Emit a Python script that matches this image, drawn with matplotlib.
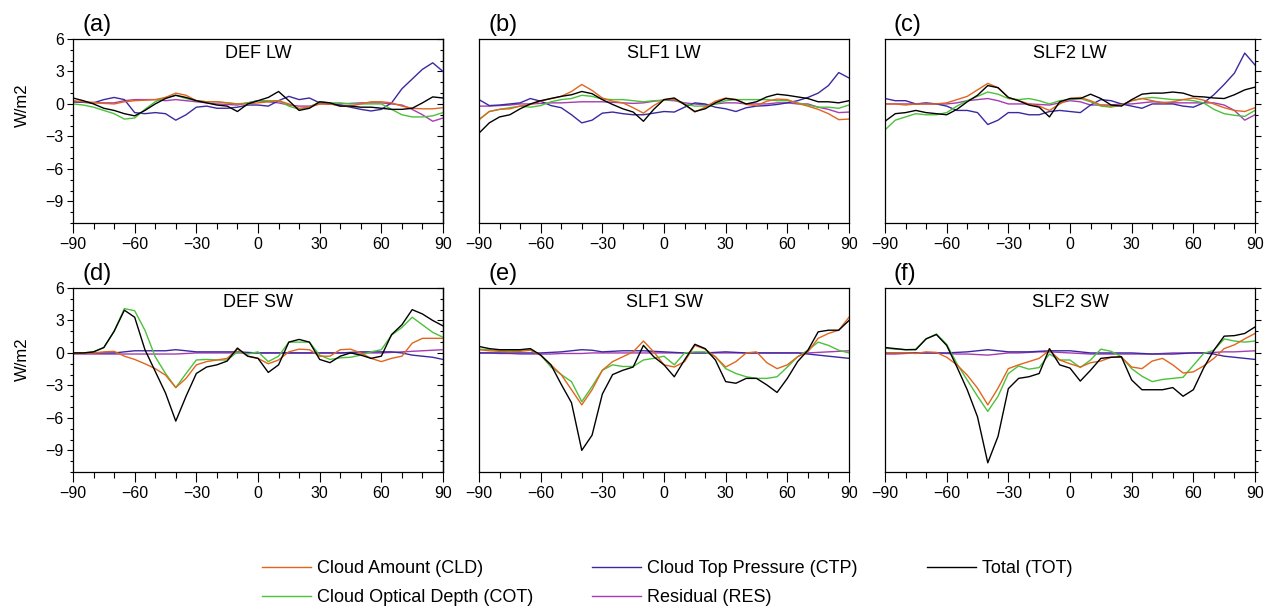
import matplotlib.pyplot as plt
import numpy as np
from matplotlib.ticker import MultipleLocator

plt.rcParams['font.family'] = ['Liberation Sans', 'DejaVu Sans']

# latitude grid (every 5 deg)
lat = np.arange(-90, 91, 5)

# ---- (a) DEF LW ----
a_cld = [0.3, 0.2, 0.15, 0.05, 0.0, 0.2, 0.3, 0.35, 0.4, 0.6, 1.0, 0.8, 0.3, 0.2, 0.2, 0.1, 0.0, 0.0, 0.1,
         0.2, 0.3, 0.0, -0.4, -0.3, 0.0, 0.0, -0.2, -0.2, 0.0, 0.2, 0.2, 0.1, -0.2, -0.4, -0.45, -0.45, -0.35]
a_cot = [0.0, -0.1, -0.3, -0.6, -0.9, -1.4, -1.3, -0.5, 0.2, 0.6, 0.8, 0.5, 0.3, 0.2, 0.2, 0.1, 0.0, 0.1, 0.3,
         0.3, 0.3, -0.2, -0.5, -0.3, 0.2, 0.1, 0.1, 0.0, 0.0, 0.0, 0.0, -0.5, -1.0, -1.2, -1.2, -1.1, -0.8]
a_ctp = [0.2, 0.15, 0.1, 0.4, 0.6, 0.4, -0.8, -0.9, -0.8, -0.9, -1.5, -1.0, -0.3, -0.2, -0.4, -0.4, -0.3, -0.1, -0.1,
         -0.2, 0.3, 0.7, 0.4, 0.55, 0.1, 0.0, -0.1, -0.3, -0.5, -0.65, -0.5, 0.1, 1.4, 2.3, 3.2, 3.8, 3.0]
a_res = [0.2, 0.15, 0.1, 0.1, 0.1, 0.3, 0.4, 0.4, 0.4, 0.3, 0.4, 0.3, 0.2, 0.1, 0.0, -0.05, -0.1, 0.1, 0.3,
         0.2, 0.1, -0.1, -0.2, -0.2, 0.0, 0.0, 0.0, 0.05, 0.1, 0.1, 0.1, 0.0, -0.1, -0.5, -1.0, -1.6, -1.3]
a_tot = [0.55, 0.3, 0.0, -0.4, -0.6, -0.9, -1.1, -0.6, 0.0, 0.5, 0.8, 0.6, 0.3, 0.1, -0.1, -0.2, -0.7, 0.0, 0.3,
         0.6, 1.15, 0.3, -0.6, -0.4, 0.2, 0.1, -0.2, -0.2, -0.3, -0.3, -0.4, -0.5, -0.5, -0.4, 0.1, 0.65, 0.55]

# ---- (b) SLF1 LW ----
b_cld = [-1.45, -0.7, -0.5, -0.45, -0.2, -0.05, 0.25, 0.5, 0.7, 1.15, 1.8, 1.25, 0.55, 0.25, 0.1, -0.35, -0.85, -0.15, 0.4,
         0.45, -0.05, -0.75, -0.3, 0.25, 0.55, 0.4, -0.05, -0.15, 0.25, 0.45, 0.4, 0.05, -0.2, -0.5, -0.9, -1.45, -1.4]
b_cot = [-1.45, -0.7, -0.5, -0.35, -0.2, -0.3, -0.15, 0.2, 0.4, 0.5, 0.8, 0.7, 0.45, 0.4, 0.4, 0.3, 0.2, 0.3, 0.35,
         0.4, 0.0, -0.2, -0.2, 0.0, 0.3, 0.4, 0.4, 0.4, 0.4, 0.3, 0.3, 0.1, -0.1, -0.3, -0.3, -0.4, -0.1]
b_ctp = [0.4, -0.15, -0.1, 0.0, 0.1, 0.5, 0.25, -0.15, -0.35, -1.0, -1.75, -1.5, -0.85, -0.75, -0.9, -1.0, -1.0, -0.85, -0.7,
         -0.75, -0.3, 0.1, 0.0, -0.3, -0.45, -0.7, -0.35, -0.2, -0.15, -0.05, 0.1, 0.3, 0.6, 1.0, 1.7, 2.9, 2.4]
b_res = [-0.2, -0.2, -0.15, -0.1, 0.0, 0.0, 0.05, 0.1, 0.1, 0.15, 0.2, 0.2, 0.2, 0.15, 0.1, 0.05, 0.1, 0.25, 0.35,
         0.3, 0.1, 0.0, -0.1, 0.0, 0.1, 0.1, 0.0, 0.0, 0.0, 0.1, 0.1, 0.0, 0.0, -0.3, -0.5, -0.8, -0.75]
b_tot = [-2.7, -1.75, -1.2, -1.0, -0.45, 0.0, 0.3, 0.5, 0.7, 0.85, 1.15, 0.95, 0.4, -0.05, -0.45, -0.75, -1.6, -0.5, 0.4,
         0.55, -0.05, -0.7, -0.45, 0.1, 0.5, 0.4, 0.0, 0.2, 0.65, 0.9, 0.8, 0.65, 0.5, 0.2, 0.2, 0.1, 0.3]

# ---- (c) SLF2 LW ----
c_cld = [0.0, 0.0, -0.1, 0.0, 0.0, 0.0, 0.1, 0.4, 0.7, 1.3, 1.9, 1.5, 0.6, 0.3, 0.0, -0.2, -0.6, 0.0, 0.5,
         0.6, 0.3, -0.1, -0.2, -0.1, 0.3, 0.5, 0.3, 0.1, 0.2, 0.4, 0.55, 0.35, 0.0, -0.35, -0.6, -0.7, -0.35]
c_cot = [-2.4, -1.5, -1.2, -0.9, -1.0, -1.0, -0.8, -0.2, 0.3, 0.7, 1.1, 0.9, 0.5, 0.4, 0.5, 0.3, 0.0, 0.3, 0.4,
         0.5, 0.2, -0.2, -0.3, -0.1, 0.3, 0.5, 0.6, 0.5, 0.4, 0.4, 0.3, 0.1, -0.5, -0.9, -1.05, -1.15, -0.6]
c_ctp = [0.5, 0.3, 0.3, 0.0, 0.1, 0.0, -0.2, -0.6, -0.6, -0.8, -1.9, -1.5, -0.8, -0.8, -1.0, -1.0, -0.7, -0.6, -0.7,
         -0.8, -0.1, 0.4, 0.3, 0.0, -0.2, -0.4, 0.0, 0.0, 0.0, -0.2, -0.3, 0.1, 0.85, 1.8, 2.85, 4.7, 3.6]
c_res = [0.0, 0.0, 0.0, 0.0, 0.0, 0.0, 0.0, 0.1, 0.3, 0.4, 0.5, 0.3, 0.0, 0.0, 0.0, -0.05, -0.1, 0.1, 0.3,
         0.2, -0.1, -0.1, -0.1, 0.0, 0.0, 0.1, 0.2, 0.15, 0.1, 0.1, 0.1, 0.1, 0.1, -0.1, -0.6, -1.5, -1.0]
c_tot = [-1.6, -0.9, -0.8, -0.6, -0.8, -0.9, -1.0, -0.5, 0.2, 0.8, 1.7, 1.5, 0.6, 0.3, -0.1, -0.3, -1.2, 0.2, 0.5,
         0.5, 0.9, 0.5, -0.1, -0.2, 0.4, 0.9, 1.0, 1.0, 1.1, 1.0, 0.7, 0.65, 0.55, 0.5, 0.85, 1.3, 1.55]

# ---- (d) DEF SW ----
d_cld = [0.0, 0.0, 0.0, 0.1, 0.15, -0.3, -0.6, -1.0, -1.45, -2.05, -3.2, -2.35, -1.1, -0.8, -0.65, -0.5, 0.35, -0.3, -0.5,
         -1.0, -0.65, 0.1, 0.35, 0.3, -0.3, -0.3, 0.3, 0.35, 0.0, -0.5, -0.8, -0.5, -0.3, 0.9, 1.35, 1.35, 1.35]
d_cot = [0.0, 0.0, 0.1, 0.5, 2.0, 4.1, 3.9, 2.1, -0.35, -1.9, -3.2, -1.9, -0.65, -0.6, -0.65, -0.65, 0.1, -0.1, 0.1,
         -0.8, -0.3, 1.0, 1.0, 1.0, -0.2, -0.6, -0.45, -0.4, -0.2, 0.1, 0.3, 1.65, 2.35, 3.3, 2.6, 1.9, 1.45]
d_ctp = [0.0, 0.0, 0.0, 0.0, 0.0, 0.1, 0.2, 0.2, 0.2, 0.2, 0.3, 0.2, 0.1, 0.1, 0.1, 0.1, 0.1, 0.05, 0.0,
         0.0, 0.0, 0.0, 0.0, 0.0, 0.0, 0.0, 0.0, 0.05, 0.1, 0.1, 0.1, 0.1, 0.0, -0.2, -0.3, -0.4, -0.6]
d_res = [-0.1, -0.1, -0.1, -0.1, -0.1, -0.1, -0.1, -0.1, -0.1, -0.1, -0.1, -0.05, 0.0, 0.0, 0.0, 0.0, 0.0, 0.0, 0.0,
         0.0, 0.0, 0.0, 0.0, 0.0, 0.0, 0.0, 0.0, 0.0, 0.0, 0.0, 0.0, 0.05, 0.1, 0.15, 0.2, 0.25, 0.3]
d_tot = [0.0, 0.0, 0.1, 0.5, 2.0, 3.95, 3.3, 0.3, -1.7, -3.7, -6.3, -4.0, -1.9, -1.3, -1.1, -0.75, 0.45, -0.3, -0.5,
         -1.8, -1.1, 1.0, 1.25, 1.0, -0.6, -0.9, -0.3, 0.0, -0.2, -0.5, -0.3, 1.7, 2.6, 4.0, 3.6, 3.0, 2.5]

# ---- (e) SLF1 SW ----
e_cld = [0.3, 0.2, 0.15, 0.1, 0.15, 0.25, -0.2, -1.1, -2.0, -3.4, -4.8, -3.4, -1.6, -0.8, -0.35, 0.1, 1.1, 0.1, -1.1,
         -1.3, -0.8, 0.7, 0.35, -0.35, -1.3, -0.8, 0.0, 0.1, -0.9, -1.45, -1.1, -0.35, 0.1, 1.35, 1.8, 2.1, 3.3]
e_cot = [0.35, 0.3, 0.2, 0.2, 0.25, 0.3, -0.2, -1.3, -2.0, -2.65, -4.5, -3.1, -1.6, -1.1, -1.25, -1.25, -0.65, -0.5, -0.3,
         -1.1, 0.0, 0.1, 0.1, -0.35, -1.45, -1.9, -2.2, -2.35, -2.35, -2.2, -1.3, -0.35, 0.25, 1.0, 0.7, 0.25, 0.0]
e_ctp = [0.0, 0.0, 0.0, 0.0, 0.0, 0.0, 0.0, 0.05, 0.1, 0.2, 0.3, 0.25, 0.1, 0.15, 0.2, 0.2, 0.2, 0.15, 0.1,
         0.05, 0.0, 0.0, 0.0, 0.05, 0.1, 0.05, 0.0, 0.0, 0.0, 0.0, 0.0, 0.0, -0.1, -0.2, -0.3, -0.4, -0.5]
e_res = [0.0, 0.0, -0.05, -0.05, -0.1, -0.1, -0.1, -0.1, -0.05, -0.05, -0.05, 0.0, 0.0, 0.0, 0.0, 0.0, 0.0, 0.0, 0.0,
         0.0, 0.0, 0.0, 0.0, 0.0, 0.0, 0.0, 0.0, 0.0, 0.0, 0.0, 0.0, 0.0, 0.0, 0.05, 0.1, 0.15, 0.2]
e_tot = [0.6, 0.4, 0.3, 0.3, 0.3, 0.4, -0.2, -1.1, -2.9, -4.6, -9.0, -7.6, -3.8, -2.0, -1.6, -1.3, 0.7, -0.35, -1.1,
         -2.2, -0.65, 0.8, 0.4, -0.65, -2.65, -2.8, -2.35, -2.35, -2.95, -3.65, -2.35, -0.8, 0.25, 1.95, 2.1, 2.1, 3.0]

# ---- (f) SLF2 SW ----
f_cld = [0.0, 0.0, 0.0, -0.05, 0.1, 0.05, -0.4, -1.1, -2.05, -3.25, -4.8, -3.25, -1.45, -1.1, -0.8, -0.5, 0.25, -0.65, -1.0,
         -1.3, -0.9, -0.75, -0.4, -0.4, -1.3, -1.45, -0.75, -0.5, -1.1, -1.85, -1.75, -1.2, -0.5, 0.4, 0.75, 1.3, 1.8]
f_cot = [0.45, 0.35, 0.3, 0.35, 1.3, 1.75, 0.8, -1.0, -2.5, -4.0, -5.4, -4.0, -1.9, -1.2, -1.5, -1.35, -0.1, -0.65, -0.65,
         -1.35, -0.65, 0.35, 0.15, -0.35, -1.45, -2.15, -2.65, -2.45, -2.35, -2.25, -1.15, -0.05, 0.25, 1.3, 1.1, 1.0, 1.1]
f_ctp = [0.0, 0.0, 0.0, 0.0, 0.0, 0.0, 0.0, 0.05, 0.1, 0.2, 0.3, 0.2, 0.1, 0.1, 0.1, 0.15, 0.2, 0.2, 0.2,
         0.1, 0.0, 0.0, 0.0, 0.0, 0.0, -0.05, -0.1, -0.1, -0.1, -0.05, 0.0, 0.0, -0.1, -0.3, -0.4, -0.5, -0.6]
f_res = [-0.1, -0.1, -0.05, 0.0, 0.0, 0.0, -0.05, -0.1, -0.1, -0.15, -0.2, -0.1, 0.0, 0.0, 0.05, 0.1, 0.1, 0.05, 0.0,
         -0.05, -0.1, -0.1, -0.1, -0.1, -0.1, -0.1, -0.1, -0.05, 0.0, 0.0, 0.0, 0.0, 0.05, 0.1, 0.1, 0.15, 0.2]
f_tot = [0.5, 0.4, 0.3, 0.3, 1.3, 1.7, 0.7, -1.3, -3.4, -5.9, -10.15, -7.7, -3.3, -2.35, -2.2, -1.9, 0.4, -1.1, -1.4,
         -2.6, -1.6, -0.5, -0.4, -0.35, -2.5, -3.4, -3.4, -3.4, -3.2, -4.0, -3.4, -1.4, 0.25, 1.55, 1.6, 1.8, 2.4]

titles = ['DEF LW', 'SLF1 LW', 'SLF2 LW', 'DEF SW', 'SLF1 SW', 'SLF2 SW']
letters = ['(a)', '(b)', '(c)', '(d)', '(e)', '(f)']
panels = [
    (a_cld, a_cot, a_ctp, a_res, a_tot),
    (b_cld, b_cot, b_ctp, b_res, b_tot),
    (c_cld, c_cot, c_ctp, c_res, c_tot),
    (d_cld, d_cot, d_ctp, d_res, d_tot),
    (e_cld, e_cot, e_ctp, e_res, e_tot),
    (f_cld, f_cot, f_ctp, f_res, f_tot),
]
names = ['Cloud Amount (CLD)', 'Cloud Optical Depth (COT)', 'Cloud Top Pressure (CTP)',
         'Residual (RES)', 'Total (TOT)']
colors = ['#E0661E', '#4CC13A', '#3A2AA0', '#A63CB2', 'black']

W, H = 1268, 610
fig = plt.figure(figsize=(W / 100, H / 100), dpi=100)

lefts = [73, 479, 885]
tops = [39, 288]
aw, ah = 370, 184

handles = []
for k, series in enumerate(panels):
    row, col = divmod(k, 3)
    x0, y0 = lefts[col], tops[row]
    ax = fig.add_axes([x0 / W, 1 - (y0 + ah) / H, aw / W, ah / H])
    order = [3, 2, 1, 0, 4]
    lines = {}
    for i in order:
        ln, = ax.plot(lat, series[i], color=colors[i], lw=1.0, label=names[i])
        lines[i] = ln
    if k == 0:
        handles = [lines[i] for i in range(5)]

    ax.set_xlim(-90, 90)
    ax.set_ylim(-11, 6)
    ax.set_xticks(np.arange(-90, 91, 30))
    ax.xaxis.set_minor_locator(MultipleLocator(10))
    ax.tick_params(axis='x', which='major', direction='out', length=7, width=0.8,
                   labelsize=11.5, pad=3, top=False)
    ax.tick_params(axis='x', which='minor', direction='out', length=4, width=0.8, top=False)
    ax.set_yticks(np.arange(-9, 7, 3))
    ax.yaxis.set_minor_locator(MultipleLocator(1))
    for s in ax.spines.values():
        s.set_linewidth(0.9)

    if col == 0:
        ax.tick_params(axis='y', which='major', direction='out', length=4.5, width=0.8,
                       labelsize=11.5, pad=2)
        ax.tick_params(axis='y', which='minor', direction='out', length=2.5, width=0.8)
        sec = ax.secondary_yaxis('right')
        sec.set_yticks(np.arange(-9, 7, 3))
        sec.yaxis.set_minor_locator(MultipleLocator(1))
        sec.tick_params(axis='y', which='major', direction='in', length=4.5, width=0.8,
                        labelright=False)
        sec.tick_params(axis='y', which='minor', direction='in', length=2.5, width=0.8)
        sec.spines['right'].set_linewidth(0.9)
    elif col == 1:
        ax.tick_params(axis='y', which='both', left=False, right=False, labelleft=False)
    else:
        ax.yaxis.tick_right()
        ax.tick_params(axis='y', which='major', direction='out', length=4.5, width=0.8,
                       labelright=False, left=False)
        ax.tick_params(axis='y', which='minor', direction='out', length=2.5, width=0.8,
                       left=False)

    ax.text(0.5, 0.97, titles[k], transform=ax.transAxes, ha='center', va='top', fontsize=13)
    fig.text((x0 + 9) / W, 1 - (y0 - 14) / H, letters[k], ha='left', va='center', fontsize=17)

fig.text(22 / W, 1 - 105 / H, 'W/m2', rotation=90, ha='center', va='center', fontsize=12)
fig.text(22 / W, 1 - 359 / H, 'W/m2', rotation=90, ha='center', va='center', fontsize=12)

# legend in three columns
leg_cols = [([0, 1], 262), ([2, 3], 592), ([4], 927)]
for idx, xpix in leg_cols:
    fig.legend([handles[i] for i in idx], [names[i] for i in idx],
               loc='upper left', bbox_to_anchor=(xpix / W, 1 - 560 / H),
               frameon=False, fontsize=13, handlelength=2.7, handletextpad=0.35,
               labelspacing=0.68, borderpad=0, borderaxespad=0)

fig.savefig('out.png', dpi=100)
